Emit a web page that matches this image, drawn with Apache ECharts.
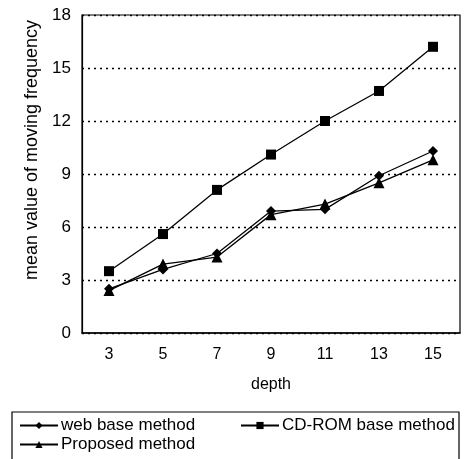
<!DOCTYPE html>
<html><head><meta charset="utf-8">
<script src="https://cdn.jsdelivr.net/npm/echarts@6/dist/echarts.min.js"></script>
<style>html,body{margin:0;padding:0;background:#fff}#c{width:464px;height:459px}</style>
</head><body><div id="c"></div>
<script>
var depths = ['3','5','7','9','11','13','15'];
var webBase = [2.5, 3.6, 4.5, 6.9, 7.0, 8.9, 10.3];
var cdromBase = [3.5, 5.6, 8.1, 10.1, 12.0, 13.7, 16.2];
var proposed = [2.4, 3.9, 4.3, 6.7, 7.3, 8.5, 9.8];
var yTicks = [0, 3, 6, 9, 12, 15, 18];

var font = 'Liberation Sans, Arial, sans-serif';
var chart = echarts.init(document.getElementById('c'));
function ser(name, data, symbol) {
  return { name: name, type: 'line', data: data, symbol: symbol, symbolSize: symbol === 'triangle' ? 11 : 10,
    lineStyle: { color: '#000', width: 1.3 }, itemStyle: { color: '#000' }, animation: false };
}
chart.setOption({
  animation: false,
  backgroundColor: '#fff',
  grid: { left: 82, top: 15, right: 4, bottom: 126, show: true, borderColor: '#000', borderWidth: 1.2, backgroundColor: 'transparent' },
  xAxis: {
    type: 'category', data: depths, boundaryGap: true,
    name: 'depth', nameLocation: 'middle', nameGap: 44,
    nameTextStyle: { fontFamily: font, fontSize: 16, color: '#000' },
    axisLine: { lineStyle: { color: '#000', width: 1.5 } },
    axisTick: { inside: true, length: 5, lineStyle: { color: '#000' } },
    axisLabel: { fontFamily: font, fontSize: 16, color: '#000', margin: 14 }
  },
  yAxis: {
    type: 'value', min: yTicks[0], max: yTicks[yTicks.length - 1], interval: 3,
    name: 'mean value of moving frequency', nameLocation: 'middle', nameGap: 27,
    nameTextStyle: { fontFamily: font, fontSize: 18, color: '#000', padding: [0, 0, 0, 48] },
    axisLine: { show: true, lineStyle: { color: '#000', width: 1.2 } },
    axisTick: { show: false },
    axisLabel: { fontFamily: font, fontSize: 17, color: '#000', margin: 11 },
    splitLine: { show: true, lineStyle: { color: '#000', type: [2, 4], width: 1.3 } }
  },
  legend: [
    { data: ['web base method', 'Proposed method'], orient: 'vertical', left: 19, top: 417, itemWidth: 38, itemHeight: 9, itemGap: 2,
      textStyle: { fontFamily: font, fontSize: 17, color: '#000', padding: [0, 0, 0, -2] }, padding: 0 },
    { data: ['CD-ROM base method'], orient: 'vertical', left: 240, top: 417, itemWidth: 38, itemHeight: 9,
      textStyle: { fontFamily: font, fontSize: 17, color: '#000', padding: [0, 0, 0, -2] }, padding: 0 }
  ],
  graphic: [{ type: 'rect', shape: { x: 12, y: 412, width: 447, height: 60 }, style: { fill: 'none', stroke: '#000', lineWidth: 1.2 } }],
  series: [ser('web base method', webBase, 'diamond'), ser('CD-ROM base method', cdromBase, 'rect'), ser('Proposed method', proposed, 'triangle')]
});
</script></body></html>
